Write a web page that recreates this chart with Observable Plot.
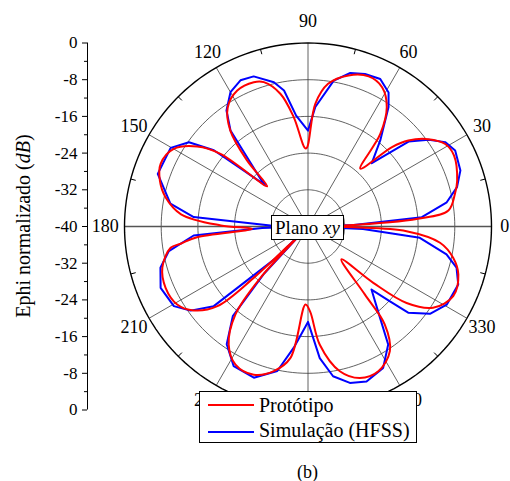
<!DOCTYPE html>
<html><head><meta charset="utf-8">
<script src="https://cdn.jsdelivr.net/npm/d3@7"></script>
<script src="https://cdn.jsdelivr.net/npm/@observablehq/plot@0.6"></script>
<style>
body{margin:0;background:#fff;}
#wrap{position:relative;width:510px;height:481px;font-family:"Liberation Serif","Times New Roman",serif;color:#000;}
.abs{position:absolute;}
.box{position:absolute;background:#fff;border:1px solid #000;box-sizing:border-box;}
</style></head><body><div id="wrap"></div>
<script>
// ---- data (angle in degrees, value in dB) ----
const protoAngle = [0,1.5,4,6.5,12.5,17,26,31,36,40.6,43.4,47.9,52,56.6,62,68,75,82,86.6,91.5,97.4,101.7,107,110.6,117.5,124,129,132.7,135.4,140.3,144.2,150,157,162.8,168.4,174.5,179.3,182.4,185.5,187.7,188.8,195.8,203.3,210.8,216.3,221.3,223.4,224.5,225.5,227.2,230.5,236.1,242.3,249.9,256.7,262.4,268.2,271.5,275.7,282.4,288.9,295.9,303.3,308.1,309.9,315.4,319.2,322.2,327,334.4,342.3,347.8,353,357.3,359,360];
const protoDb = [-40,-32,-16,-9.2,-7.2,-6.0,-4.6,-5.1,-7.6,-11.2,-14.8,-23,-14.4,-8.8,-5.6,-4.7,-5.9,-8.6,-13.2,-23,-16,-10.5,-7.1,-6.4,-6.6,-8.7,-13.1,-20.4,-27.5,-15.2,-10.2,-6.2,-5.1,-6.2,-8.3,-12.2,-21,-27.8,-15.7,-12,-9.7,-7,-6.2,-6.8,-9.1,-13.7,-23.7,-36,-38,-24.7,-15.1,-9,-6,-5.6,-7.6,-11.1,-23,-21.4,-14.1,-7.7,-5.1,-4.9,-7.5,-12.9,-20.7,-29.8,-21.2,-12.8,-7.5,-4.9,-5.6,-7.6,-11,-18.5,-30,-40];
const simAngle = [0,2,4.7,9.9,14.8,20.2,27.3,31.6,35.7,40.2,44.8,50,56,59,63.9,69.5,74.6,80,86.5,90,96.1,100,103.3,109.9,114.8,120,125.1,128.9,134.9,136,141,144.7,150.2,160.7,170.6,175.3,178.5,180,182,184.5,190,195.6,202.6,210.7,215.6,220.2,224.5,225.5,227,230,235.4,242,250.3,258,263.3,270,275.1,279.5,285,290.7,298,304.2,308.4,315.2,317.6,319.3,324.4,330.6,338.9,344.5,348.6,354.2,357.5,360];
const simDb = [-40,-30,-15.1,-9.3,-6.4,-4.6,-3.9,-4.9,-7.6,-11.3,-20.4,-15.5,-8.6,-5.9,-4.2,-4.5,-5.3,-7.7,-13.9,-19.1,-15.7,-9.9,-7.7,-5.2,-4.9,-6.2,-9.1,-13.1,-25.3,-27,-13.6,-8.2,-5.5,-5.3,-9.6,-15,-31.8,-40,-30,-15,-9.2,-6.6,-5.2,-6,-8.5,-13.1,-30,-38,-26,-14.5,-8.8,-5.5,-5,-7.8,-13.4,-19.2,-11.2,-6.9,-4.7,-3.9,-5.1,-8.9,-14.8,-20.5,-15.8,-11.2,-7.3,-5.3,-4.9,-6.4,-9.2,-15.5,-28,-40];
const seriesNames = ["Protótipo", "Simulação (HFSS)"];
const seriesColors = ["#ff0000", "#0000ff"];
const ringDb = [-32, -24, -16, -8, 0];
const spokeAngles = [0,30,60,90,120,150,180,210,240,270,300,330];
// 270 is hidden behind the legend in the reference
const labelAngles = [0,30,60,90,120,150,180,210,240,300,330];
const angleLabels = ["0","30","60","90","120","150","180","210","240","300","330"];
const minorAngles = [15,45,75,105,135,165,195,225,255,285,315,345];
const yMajor = [-1,-0.8,-0.6,-0.4,-0.2,0,0.2,0.4,0.6,0.8,1];
const yMinor = [-0.9,-0.7,-0.5,-0.3,-0.1,0.1,0.3,0.5,0.7,0.9];
const yLabel = "Ephi normalizado";
const yUnit = "dB";
const planeLabel = "Plano";
const planeUnit = "xy";
const caption = "(b)";

// ---- layout ----
const W = 510, H = 481, CX = 307.5, CY = 226, R = 183.5;
const FLOOR = -40;
const rad = db => Math.max(0, (db - FLOOR) / -FLOOR);
const toRad = a => a * Math.PI / 180;
const labelR = a => a === 0 ? 1.072 : a === 180 ? 1.105 : a === 90 ? 1.12 : 1.095;

const table = [];
protoAngle.forEach((a, i) => table.push({s: seriesNames[0], a, db: protoDb[i]}));
simAngle.forEach((a, i) => table.push({s: seriesNames[1], a, db: simDb[i]}));

const ringPts = [];
ringDb.forEach(db => { for (let a = 0; a <= 360; a += 2) ringPts.push({db, a}); });

const serif = "Liberation Serif";
const axisDx = 87 - (CX - R);
const chart = Plot.plot({
  width: W, height: H,
  marginLeft: CX - R, marginRight: W - CX - R,
  marginTop: CY - R, marginBottom: H - CY - R,
  x: {domain: [-1, 1], axis: null},
  y: {domain: [-1, 1], axis: null},
  style: {fontFamily: serif, background: "#fff", color: "#000"},
  marks: [
    Plot.line(ringPts.filter(d => d.db < 0), {x: d => rad(d.db) * Math.cos(toRad(d.a)), y: d => rad(d.db) * Math.sin(toRad(d.a)), z: "db", stroke: "#3a3a3a", strokeWidth: 0.8}),
    Plot.link(spokeAngles.filter(a => a % 180 !== 0), {x1: 0, y1: 0, x2: a => Math.cos(toRad(a)), y2: a => Math.sin(toRad(a)), stroke: "#3a3a3a", strokeWidth: 0.8}),
    Plot.link([0], {x1: -1, y1: 0, x2: 1, y2: 0, stroke: "#555", strokeWidth: 1.6}),
    Plot.link(minorAngles, {x1: a => 0.972 * Math.cos(toRad(a)), y1: a => 0.972 * Math.sin(toRad(a)), x2: a => Math.cos(toRad(a)), y2: a => Math.sin(toRad(a)), stroke: "#000", strokeWidth: 1}),
    Plot.line(ringPts.filter(d => d.db === 0), {x: d => Math.cos(toRad(d.a)), y: d => Math.sin(toRad(d.a)), stroke: "#000", strokeWidth: 1.4}),
    Plot.line(table.filter(d => d.s === seriesNames[1]), {x: d => rad(d.db) * Math.cos(toRad(d.a)), y: d => rad(d.db) * Math.sin(toRad(d.a)), stroke: seriesColors[1], strokeWidth: 2, curve: "linear"}),
    Plot.line(table.filter(d => d.s === seriesNames[0]), {x: d => rad(d.db) * Math.cos(toRad(d.a)), y: d => rad(d.db) * Math.sin(toRad(d.a)), stroke: seriesColors[0], strokeWidth: 2, curve: "catmull-rom"}),
    Plot.text(labelAngles, {x: a => labelR(a) * Math.cos(toRad(a)), y: a => labelR(a) * Math.sin(toRad(a)), text: (a, i) => angleLabels[i], fontSize: 18, fill: "#000"}),
    Plot.ruleX([-1], {y1: -1, y2: 1, dx: axisDx, stroke: "#000", strokeWidth: 1}),
    Plot.axisY(yMajor, {anchor: "left", tickSize: 5, tickPadding: 5, dx: axisDx, fontSize: 17, label: null, tickFormat: d => String(Math.round(FLOOR + Math.abs(d) * -FLOOR)), color: "#000"}),
    Plot.axisY(yMinor, {anchor: "left", tickSize: 3, dx: axisDx, label: null, tickFormat: () => "", color: "#000"})
  ]
});
const wrap = document.getElementById("wrap");
wrap.appendChild(chart);

// y-axis title
const yl = document.createElement("div");
yl.className = "abs";
yl.style.cssText = "left:23px;top:226px;transform:translate(-50%,-50%) rotate(-90deg);white-space:nowrap;font-size:20px;line-height:22px;";
yl.innerHTML = `${yLabel} (<i>${yUnit}</i>)`;
wrap.appendChild(yl);

// plane label box
const pb = document.createElement("div");
pb.className = "box";
pb.style.cssText += "left:271px;top:215px;width:73px;height:25px;font-size:19px;line-height:23px;text-align:center;white-space:nowrap;";
pb.innerHTML = `${planeLabel} <i>${planeUnit}</i>`;
wrap.appendChild(pb);

// legend
const lg = document.createElement("div");
lg.className = "box";
lg.style.cssText += "left:199px;top:391px;width:218px;height:52px;";
seriesNames.forEach((name, i) => {
  const ln = document.createElement("div");
  ln.className = "abs";
  ln.style.cssText = `left:8px;top:${12 + i * 26.5}px;width:46px;height:2px;background:${seriesColors[i]};`;
  lg.appendChild(ln);
  const tx = document.createElement("div");
  tx.className = "abs";
  tx.style.cssText = `left:59px;top:${3 + i * 25}px;font-size:20px;line-height:20px;white-space:nowrap;`;
  tx.textContent = name;
  lg.appendChild(tx);
});
wrap.appendChild(lg);

// caption
const cp = document.createElement("div");
cp.className = "abs";
cp.style.cssText = "left:0;width:" + (2 * CX) + "px;top:461px;font-size:18px;line-height:22px;text-align:center;";
cp.textContent = caption;
wrap.appendChild(cp);
</script>
</body></html>
